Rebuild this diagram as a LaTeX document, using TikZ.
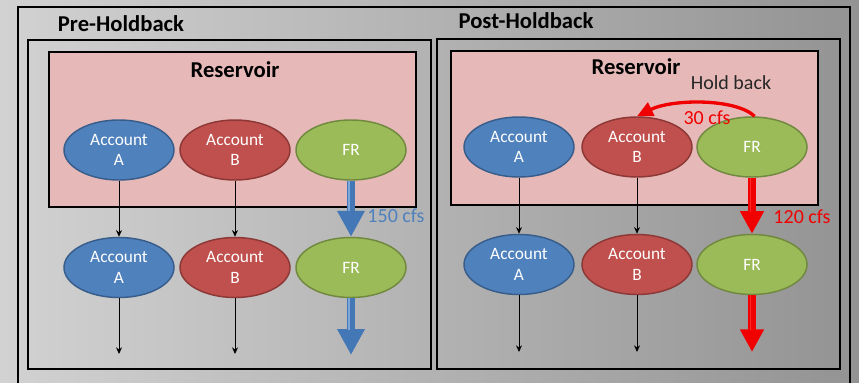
\documentclass[tikz,border=0pt]{standalone}
\usepackage{fontspec}
\setmainfont{Carlito}
\usetikzlibrary{shapes.geometric,arrows.meta}
\definecolor{bgl}{HTML}{D2D2D2}
\definecolor{bgr}{HTML}{939393}
\definecolor{resfill}{HTML}{E6B9B8}
\definecolor{accA}{HTML}{4F81BD}
\definecolor{accAd}{HTML}{385D8A}
\definecolor{accB}{HTML}{C0504D}
\definecolor{accBd}{HTML}{8C3836}
\definecolor{accF}{HTML}{9BBB59}
\definecolor{accFd}{HTML}{71893F}
\definecolor{flowblue}{HTML}{4477B5}
\definecolor{flowbluehi}{HTML}{7FA8DA}
\definecolor{flowbluetext}{HTML}{4F81BD}
\definecolor{flowred}{HTML}{F00000}
\definecolor{flowredhi}{HTML}{FF2A2A}
\tikzset{
  frame/.style={draw=black,line width=1.5pt},
  resbox/.style={draw=black,line width=1.5pt,fill=resfill},
  acct/.style={ellipse,minimum width=82.5pt,minimum height=45pt,inner sep=0pt,
    line width=1.1pt,text=white,align=center,font=\fontsize{13}{15.5}\selectfont},
  acctA/.style={acct,fill=accA,draw=accAd},
  acctB/.style={acct,fill=accB,draw=accBd},
  acctF/.style={acct,fill=accF,draw=accFd},
  thin/.style={draw=black,line width=0.75pt,-{Stealth[length=5pt,width=4.5pt]}},
  bluefat/.style={draw=flowblue,line width=6pt,-{Triangle[length=19.5pt,width=19.5pt]}},
  bluehi/.style={draw=flowbluehi,line width=1.6pt},
  redfat/.style={draw=flowred,line width=5.5pt,-{Triangle[length=17pt,width=17pt]}},
  redhi/.style={draw=flowredhi,line width=1.2pt},
  title/.style={font=\bfseries\fontsize{17}{20}\selectfont,text=black},
  restitle/.style={font=\bfseries\fontsize{17}{20}\selectfont,text=black},
  flowlbl/.style={font=\fontsize{15}{18}\selectfont},
}
\begin{document}
\begin{tikzpicture}[x=0.75pt,y=-0.75pt]
\path[use as bounding box] (0,0) rectangle (859,382);
\clip (0,0) rectangle (859,382);
\shade[left color=bgl,right color=bgr] (0,0) rectangle (859,382);
% outer frame
\draw[frame] (18,7) rectangle (850,395);
% panels
\draw[frame] (28,40) rectangle (431,369);
\draw[frame] (437,39) rectangle (840,369);
% reservoirs
\draw[resbox] (49,52) rectangle (416,207);
\draw[resbox] (451,51) rectangle (818,205);
% titles
\node[title] (t1) at (121,24) {Pre-Holdback};
\node[title] (t2) at (526,21) {Post-Holdback};
\node[restitle] (r1) at (235,70) {Reservoir};
\node[restitle] (r2) at (636,67) {Reservoir};
% left panel ellipses
\node[acctA] (la) at (119,150) {Account\\A};
\node[acctB] (lb) at (235,150) {Account\\B};
\node[acctF] (lf) at (351,150) {FR};
\node[acctA] (la2) at (119,267.5) {Account\\A};
\node[acctB] (lb2) at (235,267.5) {Account\\B};
\node[acctF] (lf2) at (351,267.5) {FR};
\coordinate (lae) at (119,354);
\coordinate (lbe) at (235,354);
\coordinate (lfe) at (351,355);
% right panel ellipses
\node[acctA] (ra) at (519,147) {Account\\A};
\node[acctB] (rb) at (637,147) {Account\\B};
\node[acctF] (rf) at (752,147) {FR};
\node[acctA] (ra2) at (519,264.5) {Account\\A};
\node[acctB] (rb2) at (637,264.5) {Account\\B};
\node[acctF] (rf2) at (752,264.5) {FR};
\coordinate (rae) at (519,352);
\coordinate (rbe) at (637,352);
\coordinate (rfe) at (752,352);
% thin arrows
\draw[thin] (la) -- (la2);
\draw[thin] (lb) -- (lb2);
\draw[thin] (la2) -- (lae);
\draw[thin] (lb2) -- (lbe);
\draw[thin] (ra) -- (ra2);
\draw[thin] (rb) -- (rb2);
\draw[thin] (ra2) -- (rae);
\draw[thin] (rb2) -- (rbe);
% fat arrows
\draw[bluefat] (lf) -- (lf2);
\draw[bluehi] ([xshift=-1.2pt]lf.south) -- ([xshift=-1.2pt,yshift=19pt]lf2.north);
\draw[bluefat] (lf2) -- (lfe);
\draw[bluehi] ([xshift=-1.2pt]lf2.south) -- ([xshift=-1.2pt,yshift=19pt]lfe);
\draw[redfat] (rf) -- (rf2);
\draw[redhi] ([xshift=-1.1pt]rf.south) -- ([xshift=-1.1pt,yshift=16.5pt]rf2.north);
\draw[redfat] (rf2) -- (rfe);
\draw[redhi] ([xshift=-1.1pt]rf2.south) -- ([xshift=-1.1pt,yshift=16.5pt]rfe);
% hold back curve
\draw[draw=flowred,line width=2.5pt,-{Triangle[length=12pt,width=11pt]}]
  ([xshift=2pt]rf.north) .. controls (735,98) and (672,99) .. (rb.north);
% labels
\node[flowlbl,text=flowbluetext] (l150) at (396,216) {150 cfs};
\node[flowlbl,text=flowred] (l120) at (802,217) {120 cfs};
\node[flowlbl,text=flowred] (l30) at (707,118) {30 cfs};
\node[flowlbl,text=black!85] (hb) at (731,83) {Hold back};
\end{tikzpicture}
\end{document}
